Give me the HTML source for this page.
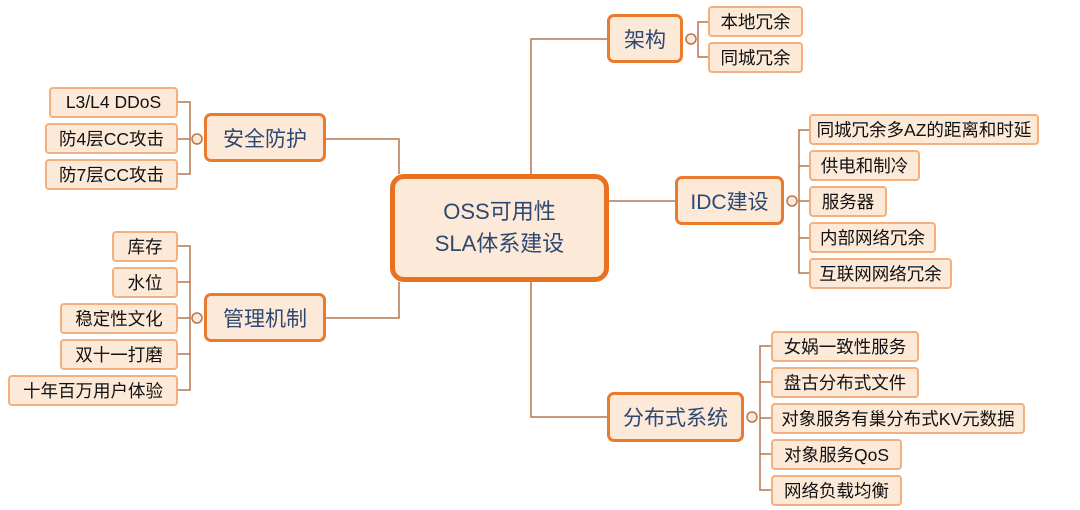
<!DOCTYPE html>
<html><head><meta charset="utf-8"><style>
body{margin:0;width:1080px;height:510px;background:#fff;position:relative;overflow:hidden;font-family:"Liberation Sans","Noto Sans CJK SC",sans-serif}
.b{position:absolute;box-sizing:border-box;display:flex;align-items:center;justify-content:center;background:#fde9d8;white-space:nowrap}
.l{border:2px solid #f3b07c;border-radius:4px;font-size:17.5px;color:#111}
.m{border:3px solid #e97a2e;border-radius:7px;font-size:21px;color:#2d4872}
.c{border:5px solid #e8721f;border-radius:14px;font-size:22px;color:#2d4872;text-align:center;line-height:32px}
svg{position:absolute;left:0;top:0}
</style></head><body>
<svg width="1080" height="510" fill="none" stroke="#b5774f" stroke-width="1.5">
<path d="M326 139H399V174M326 318H399V282M531 174V39H607M608 201H675M531 282V417H607"/>
<path d="M178 102H190V174H178M178 139H190M178 246H190V390H178M178 282H190M178 318H190M178 354H190"/>
<path d="M708 22H698V57H708"/>
<path d="M809 130H799V273H809M809 166H799M809 201H799M809 238H799"/>
<path d="M771 346H760V490H771M771 382H760M771 418H760M771 454H760"/>
<g fill="#fde9d8" stroke="#b5774f"><circle cx="197" cy="139" r="5"/><circle cx="197" cy="318" r="5"/><circle cx="691" cy="39" r="5"/><circle cx="792" cy="201" r="5"/><circle cx="752" cy="417" r="5"/></g>
</svg>
<div class="b c" style="left:390px;top:174px;width:219px;height:108px">OSS可用性<br>SLA体系建设</div>
<div class="b m" style="left:204px;top:113px;width:122px;height:49px">安全防护</div>
<div class="b m" style="left:204px;top:293px;width:122px;height:49px">管理机制</div>
<div class="b m" style="left:607px;top:14px;width:76px;height:49px">架构</div>
<div class="b m" style="left:675px;top:176px;width:109px;height:49px">IDC建设</div>
<div class="b m" style="left:607px;top:392px;width:137px;height:50px">分布式系统</div>
<div class="b l" style="left:49px;top:87px;width:129px;height:31px">L3/L4 DDoS</div>
<div class="b l" style="left:45px;top:123px;width:133px;height:31px">防4层CC攻击</div>
<div class="b l" style="left:45px;top:159px;width:133px;height:31px">防7层CC攻击</div>
<div class="b l" style="left:112px;top:231px;width:66px;height:31px">库存</div>
<div class="b l" style="left:112px;top:267px;width:66px;height:31px">水位</div>
<div class="b l" style="left:60px;top:303px;width:118px;height:31px">稳定性文化</div>
<div class="b l" style="left:60px;top:339px;width:118px;height:31px">双十一打磨</div>
<div class="b l" style="left:8px;top:375px;width:170px;height:31px">十年百万用户体验</div>
<div class="b l" style="left:708px;top:6px;width:95px;height:31px">本地冗余</div>
<div class="b l" style="left:708px;top:42px;width:95px;height:31px">同城冗余</div>
<div class="b l" style="left:809px;top:114px;width:230px;height:31px">同城冗余多AZ的距离和时延</div>
<div class="b l" style="left:809px;top:150px;width:111px;height:31px">供电和制冷</div>
<div class="b l" style="left:809px;top:186px;width:78px;height:31px">服务器</div>
<div class="b l" style="left:809px;top:222px;width:127px;height:31px">内部网络冗余</div>
<div class="b l" style="left:809px;top:258px;width:143px;height:31px">互联网网络冗余</div>
<div class="b l" style="left:771px;top:331px;width:148px;height:31px">女娲一致性服务</div>
<div class="b l" style="left:771px;top:367px;width:148px;height:31px">盘古分布式文件</div>
<div class="b l" style="left:771px;top:403px;width:254px;height:31px">对象服务有巢分布式KV元数据</div>
<div class="b l" style="left:771px;top:439px;width:131px;height:31px">对象服务QoS</div>
<div class="b l" style="left:771px;top:475px;width:131px;height:31px">网络负载均衡</div>
</body></html>
